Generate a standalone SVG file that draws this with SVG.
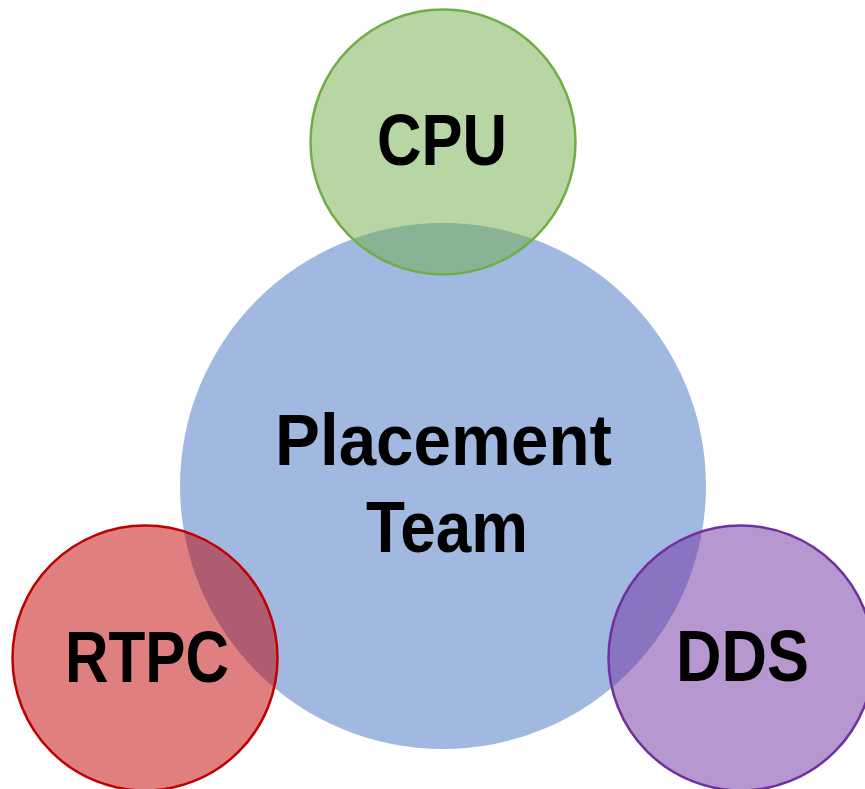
<svg xmlns="http://www.w3.org/2000/svg" width="865" height="789" viewBox="0 0 865 789">
  <style>
    .lbl { font-family: "Liberation Sans", Arial, sans-serif; font-weight: bold; font-size: 72.5px; fill: #000000; }
    .hub { fill: #4472C4; fill-opacity: 0.5; stroke: none; }
    .sat { stroke-width: 2.5; }
    .green { fill: #70AD47; fill-opacity: 0.5; stroke: #70AD47; }
    .red { fill: #C00000; fill-opacity: 0.5; stroke: #C00000; }
    .purple { fill: #7030A0; fill-opacity: 0.5; stroke: #7030A0; }
  </style>
  <rect width="865" height="789" fill="#ffffff"/>
  <g id="connectors"></g>
  <g id="placement-team">
    <circle class="hub" cx="443" cy="486" r="263"/>
  </g>
  <g id="cpu">
    <circle class="sat green" cx="443" cy="142" r="132.5"/>
    <text class="lbl" x="377" y="165" textLength="130" lengthAdjust="spacingAndGlyphs">CPU</text>
  </g>
  <g id="rtpc">
    <circle class="sat red" cx="145" cy="658" r="132.5"/>
    <text class="lbl" x="65" y="682" textLength="164" lengthAdjust="spacingAndGlyphs">RTPC</text>
  </g>
  <g id="dds">
    <circle class="sat purple" cx="741" cy="658" r="132.5"/>
    <text class="lbl" x="676" y="681" textLength="133" lengthAdjust="spacingAndGlyphs">DDS</text>
  </g>
  <g id="placement-label">
    <text class="lbl" x="275" y="465" textLength="337" lengthAdjust="spacingAndGlyphs">Placement</text>
    <text class="lbl" x="366" y="552" textLength="162" lengthAdjust="spacingAndGlyphs">Team</text>
  </g>
</svg>
